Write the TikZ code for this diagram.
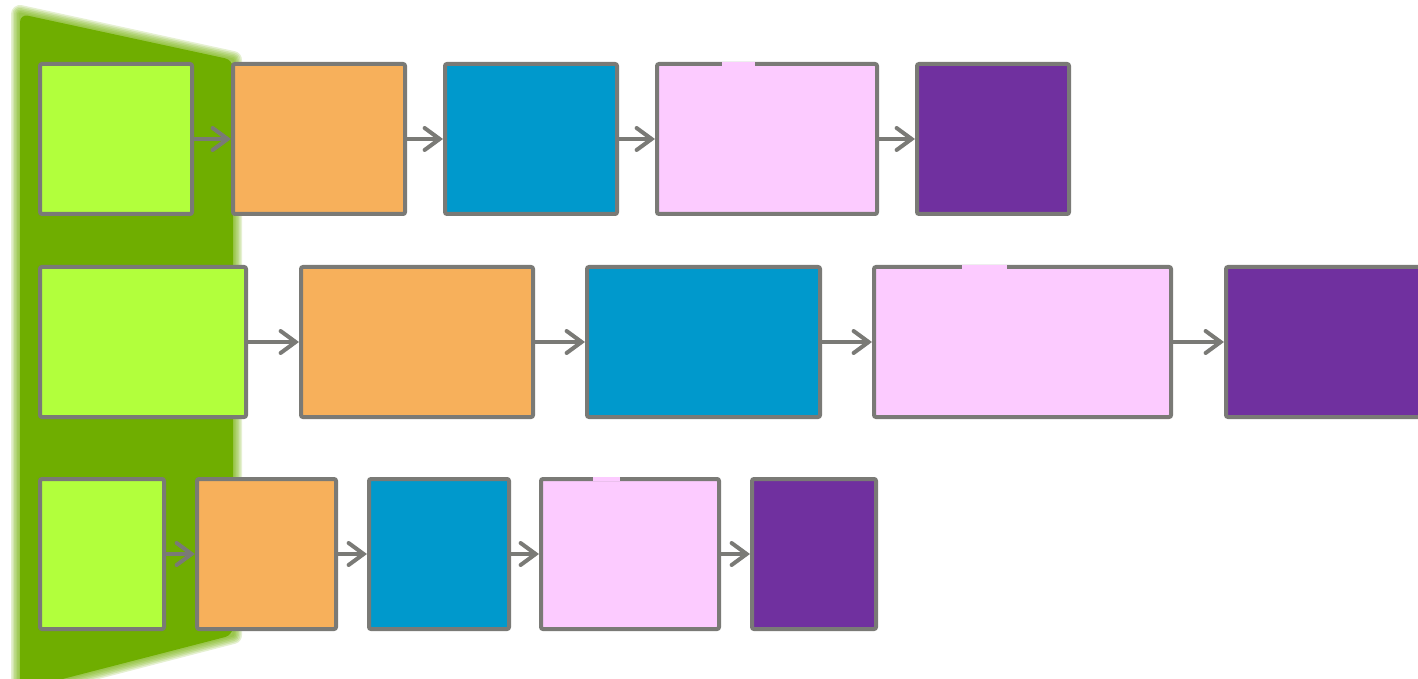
\documentclass[tikz,border=0pt]{standalone}
\usetikzlibrary{arrows.meta}
\definecolor{lime}{HTML}{B2FF3C}
\definecolor{band}{HTML}{6FAE00}
\definecolor{peach}{HTML}{F7B05B}
\definecolor{sea}{HTML}{0099CC}
\definecolor{blush}{HTML}{FCCBFF}
\definecolor{plum}{HTML}{70309F}
\definecolor{edge}{HTML}{7A7A76}
\tikzset{
  box/.style={draw=edge, line width=2pt, rounded corners=1pt},
  link/.style={draw=edge, line width=2pt, line cap=round, -{Straight Barb[length=7.5pt,width=11pt,line cap=round]}}
}
\begin{document}
\begin{tikzpicture}[x=0.5pt,y=-0.5pt]
\useasboundingbox (0,0) rectangle (1418,679);
% soft green band
\foreach \w in {9,7.5,6,4.5,3,1.5}
  \draw[band, opacity=.18, line width=\w pt, line join=round] (20,14) -- (233,60) -- (233,635) -- (20,690) -- cycle;
\fill[band, rounded corners=4pt] (20,14) -- (233,60) -- (233,635) -- (20,690) -- cycle;
% row 1
\node[box, fill=lime, minimum width=76pt, minimum height=75pt] (g1) at (116,139) {};
\node[box, fill=peach, minimum width=86pt, minimum height=75pt] (o1) at (319,139) {};
\node[box, fill=sea, minimum width=86pt, minimum height=75pt] (c1) at (531,139) {};
\node[box, fill=blush, minimum width=110pt, minimum height=75pt] (p1) at (767,139) {};
\node[box, fill=plum, minimum width=76pt, minimum height=75pt] (v1) at (993,139) {};
\fill[blush] (722,62) rectangle (755,66);
\draw[link] (g1) -- (o1);
\draw[link] (o1) -- (c1);
\draw[link] (c1) -- (p1);
\draw[link] (p1) -- (v1);
% row 2
\node[box, fill=lime, minimum width=103pt, minimum height=75pt] (g2) at (143,342) {};
\node[box, fill=peach, minimum width=116pt, minimum height=75pt] (o2) at (417,342) {};
\node[box, fill=sea, minimum width=116.5pt, minimum height=75pt] (c2) at (703.5,342) {};
\node[box, fill=blush, minimum width=148.5pt, minimum height=75pt] (p2) at (1022.5,342) {};
\node[box, fill=plum, minimum width=100pt, minimum height=75pt] (v2) at (1326,342) {};
\fill[blush] (962,265) rectangle (1007,269);
\draw[link] (g2) -- (o2);
\draw[link] (o2) -- (c2);
\draw[link] (c2) -- (p2);
\draw[link] (p2) -- (v2);
% row 3
\node[box, fill=lime, minimum width=62pt, minimum height=75pt] (g3) at (102,554) {};
\node[box, fill=peach, minimum width=69.5pt, minimum height=75pt] (o3) at (266.5,554) {};
\node[box, fill=sea, minimum width=70pt, minimum height=75pt] (c3) at (439,554) {};
\node[box, fill=blush, minimum width=89pt, minimum height=75pt] (p3) at (630,554) {};
\node[box, fill=plum, minimum width=62pt, minimum height=75pt] (v3) at (814,554) {};
\fill[blush] (593,477) rectangle (620,481);
\draw[link] (g3) -- (o3);
\draw[link] (o3) -- (c3);
\draw[link] (c3) -- (p3);
\draw[link] (p3) -- (v3);
\end{tikzpicture}
\end{document}
